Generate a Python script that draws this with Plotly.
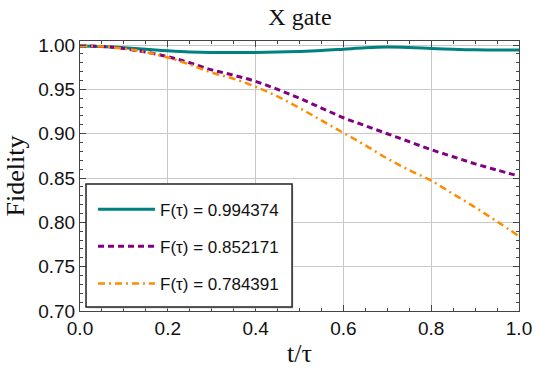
import plotly.graph_objects as go

t = [0.0, 0.05, 0.1, 0.15, 0.2, 0.25, 0.3, 0.35, 0.4, 0.45, 0.5,
     0.55, 0.6, 0.65, 0.7, 0.75, 0.8, 0.85, 0.9, 0.95, 1.0]
f_teal = [0.9990, 0.9984, 0.9970, 0.9952, 0.9935, 0.9922, 0.9916, 0.9915, 0.9917, 0.9921, 0.9928,
          0.9938, 0.9953, 0.9969, 0.9977, 0.9972, 0.9961, 0.9952, 0.9946, 0.9944, 0.994374]
f_purple = [0.9990, 0.9985, 0.9960, 0.9920, 0.9870, 0.9800, 0.9720, 0.9660, 0.9590, 0.9500, 0.9400,
            0.9290, 0.9180, 0.9090, 0.9000, 0.8910, 0.8820, 0.8740, 0.8660, 0.8590, 0.852171]
f_orange = [0.9990, 0.9985, 0.9960, 0.9920, 0.9860, 0.9780, 0.9690, 0.9620, 0.9530, 0.9420, 0.9290,
            0.9150, 0.9010, 0.8870, 0.8720, 0.8590, 0.8470, 0.8320, 0.8170, 0.8010, 0.784391]
names = ["F(τ) = 0.994374", "F(τ) = 0.852171", "F(τ) = 0.784391"]

fig = go.Figure()
fig.add_trace(go.Scatter(x=t, y=f_teal, mode="lines", name=names[0], legendgroup="a",
                         line=dict(color="#008080", width=3, shape="spline")))
fig.add_trace(go.Scatter(x=t, y=f_purple, mode="lines", name=names[1], legendgroup="b",
                         line=dict(color="#800080", width=3, dash="6px,4px", shape="spline")))
fig.add_trace(go.Scatter(x=t, y=f_orange, mode="lines", name=names[2], legendgroup="c",
                         line=dict(color="#FF8C00", width=2.5, dash="7px,4px,2px,4px", shape="spline")))

axis_common = dict(showline=True, linecolor="#444", linewidth=1, mirror="allticks",
                   ticks="inside", ticklen=6, tickcolor="#444", automargin=False,
                   showgrid=True, gridcolor="#c8c8c8", gridwidth=1, zeroline=False,
                   ticklabeloverflow="allow",
                   tickfont=dict(family="Liberation Sans, Arial, sans-serif", size=19, color="#111"))

fig.update_xaxes(range=[0, 1], tickvals=[0, 0.2, 0.4, 0.6, 0.8, 1.0],
                 ticktext=["0.0", "0.2", "0.4", "0.6", "0.8", "1.0"],
                 minor=dict(dtick=0.05, ticks="inside", ticklen=3, tickcolor="#444", showgrid=False),
                 title=dict(text="t/τ", font=dict(family="Liberation Serif, serif", size=26, color="#111"), standoff=6),
                 **axis_common)
fig.update_yaxes(range=[0.70, 1.0046], tickvals=[0.70, 0.75, 0.80, 0.85, 0.90, 0.95, 1.00],
                 ticktext=["0.70", "0.75", "0.80", "0.85", "0.90", "0.95", "1.00"],
                 minor=dict(dtick=0.01, ticks="inside", ticklen=3, tickcolor="#444", showgrid=False),
                 title=dict(text="Fidelity", font=dict(family="Liberation Serif, serif", size=26, color="#111"), standoff=6),
                 **axis_common)

# legend frame (with a soft shadow) drawn as paper-anchored rectangles
fig.add_shape(type="rect", xref="paper", yref="paper", x0=0.0165, x1=0.486, y0=0.0093, y1=0.465,
              fillcolor="#cfcfcf", line=dict(width=0), layer="above")
fig.add_shape(type="rect", xref="paper", yref="paper", x0=0.0137, x1=0.483, y0=0.0148, y1=0.470,
              fillcolor="white", line=dict(color="#222", width=1.5), layer="above")

fig.update_layout(
    width=534, height=378,
    margin=dict(l=80, r=15, t=41, b=67),
    paper_bgcolor="white", plot_bgcolor="white",
    title=dict(text="X gate", x=300 / 534, xanchor="center", y=0.955, yanchor="middle",
               font=dict(family="Liberation Serif, serif", size=24, color="#111")),
    legend=dict(x=0.0296, y=0.442, xanchor="left", yanchor="top",
                bgcolor="rgba(0,0,0,0)", borderwidth=0,
                font=dict(family="Liberation Sans, Arial, sans-serif", size=17, color="#111"),
                traceorder="grouped", tracegroupgap=12, itemwidth=57),
    showlegend=True,
)

fig.write_html("out.html", config={"displayModeBar": False},
               post_script="document.body.style.margin='0';")
